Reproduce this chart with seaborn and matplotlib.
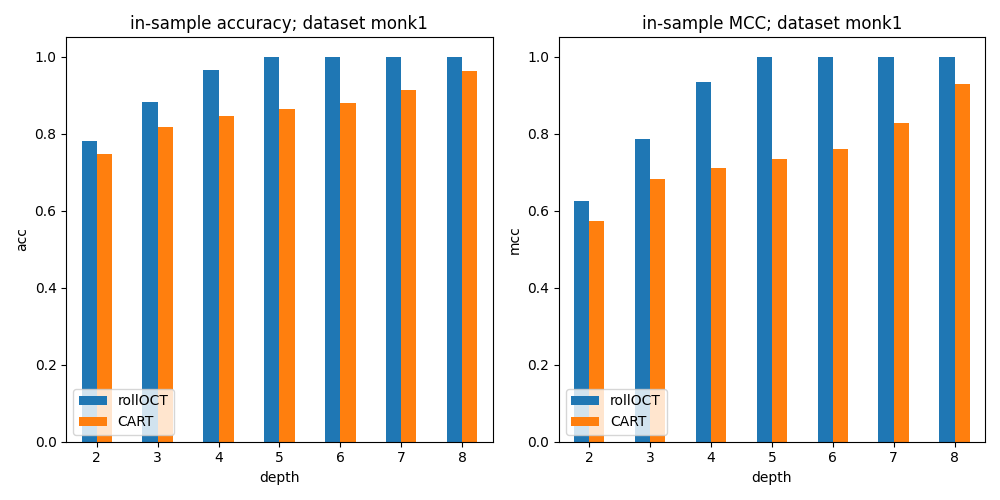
import matplotlib
matplotlib.use("Agg")
import matplotlib.pyplot as plt
import seaborn as sns
import pandas as pd

depths = [2, 3, 4, 5, 6, 7, 8]
acc_roll = [0.781, 0.883, 0.966, 1.0, 1.0, 1.0, 1.0]
acc_cart = [0.748, 0.818, 0.846, 0.865, 0.880, 0.914, 0.963]
mcc_roll = [0.625, 0.786, 0.935, 1.0, 1.0, 1.0, 1.0]
mcc_cart = [0.573, 0.682, 0.711, 0.734, 0.760, 0.828, 0.930]

def make_df(r, c):
    return pd.DataFrame({
        "depth": depths * 2,
        "value": r + c,
        "method": ["rollOCT"] * len(depths) + ["CART"] * len(depths),
    })

fig, axes = plt.subplots(1, 2, figsize=(10, 5), dpi=100)
for ax, (r, c, lab, title) in zip(axes, [
        (acc_roll, acc_cart, "acc", "in-sample accuracy; dataset monk1"),
        (mcc_roll, mcc_cart, "mcc", "in-sample MCC; dataset monk1")]):
    sns.barplot(data=make_df(r, c), x="depth", y="value", hue="method",
                palette=["#1f77b4", "#ff7f0e"], width=0.5, ax=ax, saturation=1)
    ax.set_ylabel(lab)
    ax.set_xlabel("depth")
    ax.set_title(title)
    ax.set_ylim(0, 1.05)
    ax.legend(loc="lower left", title=None)
plt.tight_layout()
plt.savefig("out.png")
